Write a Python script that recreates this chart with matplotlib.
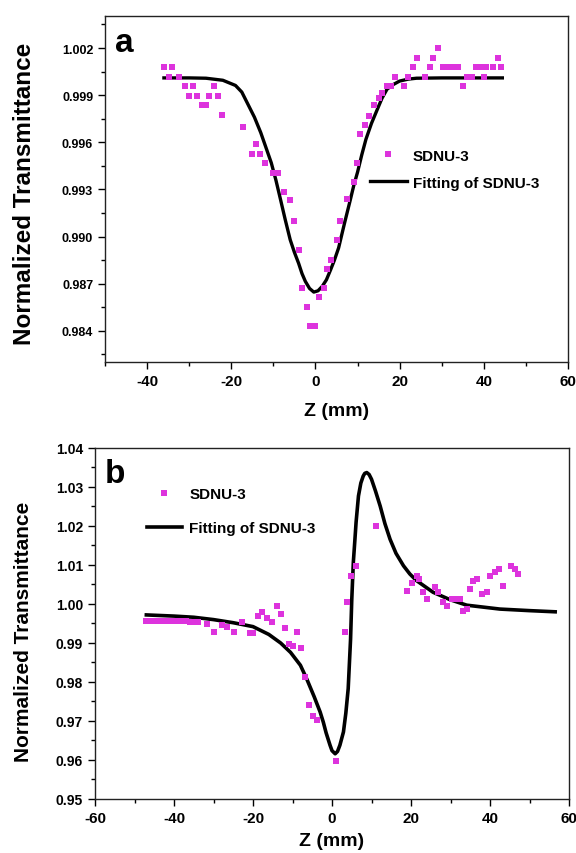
import matplotlib
matplotlib.use('Agg')
import matplotlib.pyplot as plt
from matplotlib.ticker import MultipleLocator, FormatStrFormatter

plt.rcParams['font.family'] = ['Liberation Sans', 'DejaVu Sans']
plt.rcParams['font.weight'] = 'bold'
plt.rcParams['axes.unicode_minus'] = False

PINK = '#DD33DD'

# ---- panel a: open aperture ----
za = [-36.1, -34.9, -34.1, -32.5, -31.1, -30.1, -29.1, -28.2, -27.0, -26.0,
      -25.2, -24.0, -23.2, -22.1, -17.1, -15.1, -14.1, -13.1, -11.9, -10.1,
      -9.0, -7.4, -6.0, -5.0, -4.0, -3.3, -2.1, -1.2, 0.0, 0.9,
      2.0, 2.8, 3.7, 5.0, 5.8, 7.5, 9.1, 9.9, 10.7, 11.7,
      12.7, 13.9, 15.1, 15.9, 17.1, 17.9, 19.0, 21.0, 22.1, 23.2,
      24.2, 26.0, 27.1, 28.0, 29.0, 30.2, 31.4, 32.6, 33.8, 35.1,
      36.1, 37.3, 38.1, 39.3, 40.1, 40.5, 42.1, 43.3, 44.0]
ta = [1.00077, 1.00013, 1.00077, 1.00013, 0.99956, 0.99892, 0.99956, 0.99892, 0.99836, 0.99836,
      0.99892, 0.99956, 0.99892, 0.99772, 0.99700, 0.99528, 0.99587, 0.99528, 0.99470, 0.99407,
      0.99407, 0.99285, 0.99230, 0.99098, 0.98917, 0.98676, 0.98555, 0.98432, 0.98432, 0.98613,
      0.98676, 0.98796, 0.98853, 0.98981, 0.99098, 0.99241, 0.99347, 0.99466, 0.99651, 0.99709,
      0.99768, 0.99836, 0.99885, 0.99917, 0.99956, 0.99956, 1.00013, 0.99956, 1.00013, 1.00077,
      1.00134, 1.00013, 1.00077, 1.00134, 1.00200, 1.00077, 1.00077, 1.00077, 1.00077, 0.99956,
      1.00013, 1.00013, 1.00077, 1.00077, 1.00013, 1.00077, 1.00077, 1.00134, 1.00077]

za_fit = [-36.0, -30.0, -26.0, -22.0, -19.0, -17.5, -16.0, -14.5, -13.0, -11.8,
          -10.5, -9.4, -8.3, -7.2, -6.0, -5.0, -4.0, -3.2, -2.4, -1.4,
          -0.4, 0.6, 1.6, 2.6, 3.6, 4.5, 5.5, 6.9, 8.3, 9.1,
          10.0, 11.0, 12.0, 13.3, 14.7, 15.8, 17.0, 18.5, 20.0, 22.0,
          24.0, 30.0, 44.4]
ta_fit = [1.0001, 1.0001, 1.00008, 0.99995, 0.99962, 0.9992, 0.9984, 0.9976, 0.99662, 0.9957,
          0.9947, 0.9936, 0.99236, 0.9911, 0.9898, 0.9890, 0.9883, 0.98765, 0.98715, 0.98670,
          0.98647, 0.98655, 0.98683, 0.98725, 0.98789, 0.98850, 0.98928, 0.99085, 0.99236, 0.99325,
          0.9941, 0.9952, 0.9962, 0.9972, 0.9981, 0.9988, 0.99938, 0.99968, 0.9999, 1.00002,
          1.00008, 1.0001, 1.0001]

# ---- panel b: closed aperture ----
zb = [-47, -46, -45, -44, -43, -42, -41, -40, -39, -38, -37, -36, -35, -34,
      -31.7, -29.9, -27.9, -26.7, -24.8, -22.9, -20.8, -19.9, -18.7, -17.8,
      -16.5, -15.3, -13.8, -13.0, -11.9, -10.8, -9.9, -8.9, -7.9, -6.8,
      -5.8, -4.9, -3.9, 1.0, 3.3, 3.9, 4.7, 6.2, 11.1, 19.1,
      20.2, 21.4, 22.1, 23.1, 24.0, 26.1, 26.9, 28.2, 29.0, 30.3,
      31.6, 32.4, 33.2, 34.1, 34.9, 35.8, 36.6, 37.9, 39.2, 40.0,
      41.3, 42.4, 43.4, 45.2, 46.3, 47.2]
tb = [0.9956, 0.9956, 0.9956, 0.9956, 0.9956, 0.9956, 0.9956, 0.9956, 0.9956, 0.9956, 0.9956, 0.9955, 0.9955, 0.9955,
      0.9949, 0.9929, 0.9945, 0.9940, 0.9928, 0.9953, 0.9926, 0.9926, 0.9970, 0.9979,
      0.9963, 0.9955, 0.9996, 0.9974, 0.9938, 0.9898, 0.9893, 0.9929, 0.9886, 0.9813,
      0.9740, 0.9713, 0.9702, 0.9597, 0.9928, 1.0004, 1.0071, 1.0098, 1.0199, 1.0034,
      1.0055, 1.0072, 1.0064, 1.0030, 1.0013, 1.0043, 1.0030, 1.0004, 0.9996, 1.0013,
      1.0013, 1.0013, 0.9983, 0.9987, 1.0038, 1.0060, 1.0064, 1.0026, 1.0030, 1.0072,
      1.0081, 1.0090, 1.0047, 1.0098, 1.0090, 1.0077]

zb_fit = [-47, -40, -35, -30, -25, -20, -16, -13, -10.5, -8,
          -6.4, -4.5, -3.0, -2.2, -1.5, -0.5, 0.0, 0.8, 1.4, 2.0,
          2.9, 3.5, 4.1, 4.7, 5.0, 5.4, 5.8, 6.1, 6.7, 7.3,
          7.9, 8.3, 8.8, 9.4, 10.0, 11.0, 12.2, 13.4, 14.7, 16.2,
          18.1, 19.7, 21.4, 25.6, 29.9, 34.1, 42.5, 50.0, 56.5]
tb_fit = [0.9972, 0.9969, 0.9966, 0.9960, 0.9952, 0.9942, 0.9922, 0.9900, 0.9876, 0.9843,
          0.9808, 0.9762, 0.9723, 0.9697, 0.9670, 0.9638, 0.9624, 0.9616, 0.9622, 0.9638,
          0.9672, 0.9720, 0.9783, 0.9910, 1.0010, 1.0107, 1.0165, 1.0210, 1.0277, 1.0310,
          1.0328, 1.0335, 1.0337, 1.0332, 1.0320, 1.0290, 1.0251, 1.0206, 1.0166, 1.0130,
          1.0098, 1.0077, 1.0060, 1.0030, 1.0011, 0.9997, 0.9987, 0.9983, 0.9980]

fig = plt.figure(figsize=(5.76, 8.54), dpi=100)
ax_a = fig.add_axes([105/576, 1 - 363/854, 463/576, 346/854])
ax_b = fig.add_axes([95/576, 1 - 800/854, 474/576, 351/854])


def style(ax, tick_fs_x, tick_fs_y):
    for s in ax.spines.values():
        s.set_linewidth(1.0)
        s.set_color('#222222')
    ax.tick_params(which='both', direction='out', top=False, right=False)
    ax.tick_params(which='major', length=5, width=1.0)
    ax.tick_params(which='minor', length=3, width=1.0)
    ax.tick_params(axis='x', labelsize=tick_fs_x)
    ax.tick_params(axis='y', labelsize=tick_fs_y)


# panel a
ax_a.plot(za, ta, 's', color=PINK, markersize=4, markeredgewidth=0, label='SDNU-3', zorder=3)
ax_a.plot(za_fit, ta_fit, '-', color='black', linewidth=2.4, label='Fitting of SDNU-3', zorder=2)
ax_a.set_xlim(-50, 60)
ax_a.set_ylim(0.98202, 1.00404)
ax_a.xaxis.set_major_locator(MultipleLocator(20))
ax_a.xaxis.set_minor_locator(MultipleLocator(10))
ax_a.yaxis.set_major_locator(MultipleLocator(0.003))
ax_a.yaxis.set_minor_locator(MultipleLocator(0.0015))
ax_a.yaxis.set_major_formatter(FormatStrFormatter('%.3f'))
style(ax_a, 11, 9)
ax_a.set_xlabel('Z (mm)', fontsize=14, fontweight='bold', labelpad=10)
ax_a.set_ylabel('Normalized Transmittance', fontsize=17.5, fontweight='bold')
ax_a.yaxis.set_label_coords(-0.15, 0.49)
ax_a.text(0.022, 0.899, 'a', transform=ax_a.transAxes, fontsize=24, fontweight='bold', va='baseline')
ax_a.legend(loc='upper left', bbox_to_anchor=(0.572, 0.617), frameon=False, fontsize=11,
            handlelength=2.4, handletextpad=0.4, borderpad=0, borderaxespad=0,
            labelspacing=0.85, numpoints=1)

# panel b
ax_b.plot(zb, tb, 's', color=PINK, markersize=4.5, markeredgewidth=0, label='SDNU-3', zorder=3)
ax_b.plot(zb_fit, tb_fit, '-', color='black', linewidth=2.6, label='Fitting of SDNU-3', zorder=2)
ax_b.set_xlim(-60, 60)
ax_b.set_ylim(0.95, 1.04)
ax_b.xaxis.set_major_locator(MultipleLocator(20))
ax_b.xaxis.set_minor_locator(MultipleLocator(10))
ax_b.yaxis.set_major_locator(MultipleLocator(0.01))
ax_b.yaxis.set_minor_locator(MultipleLocator(0.005))
ax_b.yaxis.set_major_formatter(FormatStrFormatter('%.2f'))
style(ax_b, 11, 10)
ax_b.set_xlabel('Z (mm)', fontsize=14, fontweight='bold', labelpad=5)
ax_b.set_ylabel('Normalized Transmittance', fontsize=15, fontweight='bold')
ax_b.yaxis.set_label_coords(-0.13, 0.48)
ax_b.text(0.021, 0.903, 'b', transform=ax_b.transAxes, fontsize=24, fontweight='bold', va='baseline')
ax_b.legend(loc='upper left', bbox_to_anchor=(0.109, 0.888), frameon=False, fontsize=11,
            handlelength=2.3, handletextpad=0.5, borderpad=0, borderaxespad=0,
            labelspacing=1.3, numpoints=1)

fig.savefig('out.png', dpi=100)
